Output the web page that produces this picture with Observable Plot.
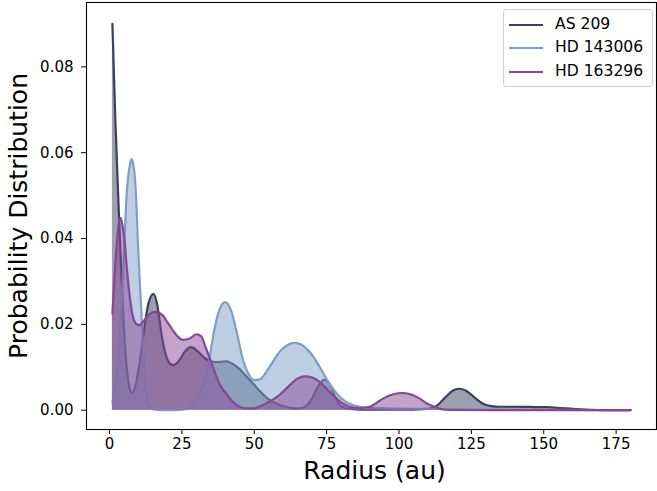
<!DOCTYPE html>
<html><head><meta charset="utf-8">
<script src="https://cdn.jsdelivr.net/npm/d3@7"></script>
<script src="https://cdn.jsdelivr.net/npm/@observablehq/plot@0.6"></script>
<style>
body{margin:0;background:#fff;font-family:"DejaVu Sans",sans-serif;}
#wrap{position:relative;width:657px;height:491px;}
.legend{position:absolute;left:503px;top:9px;width:148px;height:76px;border:1px solid #d0d0d0;border-radius:3px;background:rgba(255,255,255,0.8);font-size:15.6px;color:#000;}
.item{position:absolute;left:0;width:148px;height:20px;}
.swatch{position:absolute;left:5px;top:9px;width:34px;height:2px;}
.lab{position:absolute;left:51px;top:0px;white-space:nowrap;line-height:19px;}
</style></head><body>
<div id="wrap"></div>
<script>
const seriesNames = ["AS 209", "HD 143006", "HD 163296"];
const seriesColors = ["#3b415e", "#7d9fc7", "#874797"];

const r_as209 = [1,2,3,4,5,6,7,7.8,9,10.5,12,13.5,15.2,16.5,18,19.5,21,22.1,24,26,28.2,30.5,33,35,38,40.3,43,45,47,49.5,52,55,58.8,62,65.7,68,70,72,74.3,76.5,78,79.5,83,90,100,110,113,116,119,121,123,126,129,131.4,135,140,145,151,156,160,166,170,180];
const d_as209 = [0.09,0.068,0.05,0.033,0.019,0.0095,0.005,0.004,0.0058,0.0115,0.019,0.025,0.0271,0.0245,0.0175,0.0128,0.0108,0.0105,0.0115,0.0136,0.0147,0.0137,0.0121,0.0114,0.0112,0.0114,0.0106,0.0095,0.0081,0.0063,0.0044,0.0025,0.0012,0.0006,0.0004,0.001,0.0028,0.0055,0.0071,0.0055,0.003,0.0012,0.0003,0.0001,0.0001,0.0003,0.001,0.003,0.0047,0.005,0.0046,0.003,0.0015,0.001,0.0008,0.0008,0.00075,0.0007,0.0005,0.0003,0.0001,0.00003,0];

const r_hd143006 = [1,2,3,4,5,6,7,7.6,8.4,9,10,11,12,13,14,15,20,26,28,30,32,34,36,38,40,42,44,46,48,50,52,55,58.8,61,63.9,66.5,69.1,72.6,75,77.2,80,82,86.4,95,110,120,140,180];
const d_hd143006 = [0.002,0.005,0.012,0.022,0.037,0.051,0.057,0.0585,0.0565,0.052,0.036,0.023,0.009,0.003,0.0008,0.0002,0,0.0002,0.0008,0.0022,0.005,0.01,0.018,0.0235,0.0252,0.0232,0.018,0.012,0.0085,0.007,0.0072,0.0098,0.0136,0.015,0.0157,0.0152,0.0136,0.0101,0.0072,0.005,0.0028,0.0018,0.0008,0.0004,0.0003,0.0002,0.0001,0];

const r_hd163296 = [1,2,3,3.8,4.5,5.2,6,6.9,8,9,10.2,11.5,13.5,15.6,18.4,20,21.9,23.5,25.3,27.7,30,31.7,33,34,35.5,36.9,38.5,40.3,42.5,44.9,47,49.5,52,55.3,58.8,62.2,65,67.4,70,72.6,75,77.2,80,83,86,89.9,92,94.5,98,101.4,104.5,107.2,109.5,111.8,115,120,180];
const d_hd163296 = [0.0225,0.034,0.0425,0.0448,0.043,0.0395,0.033,0.027,0.022,0.0203,0.0198,0.0205,0.0222,0.0229,0.0221,0.0205,0.0186,0.0172,0.0164,0.0167,0.0177,0.0172,0.015,0.0132,0.0105,0.0078,0.0055,0.0039,0.002,0.0008,0.0004,0.0004,0.0009,0.002,0.0036,0.0058,0.0074,0.0079,0.0076,0.0066,0.005,0.0035,0.0018,0.0008,0.0005,0.0008,0.0016,0.0027,0.0037,0.004,0.0036,0.0027,0.0016,0.0009,0.0002,0.00005,0];

const xTicks = [0,25,50,75,100,125,150,175];
const yTicks = [0,0.02,0.04,0.06,0.08];
const xLabel = "Radius (au)";
const yLabel = "Probability Distribution";

const radii = [r_as209, r_hd143006, r_hd163296];
const dens = [d_as209, d_hd143006, d_hd163296];
const rows = seriesNames.map((s, i) => radii[i].map((r, j) => ({series: s, r, d: dens[i][j]})));

const marks = [];
rows.forEach(data => {
  marks.push(Plot.areaY(data, {x: "r", y: "d", fill: "series", fillOpacity: 0.5, curve: "monotone-x"}));
  marks.push(Plot.lineY(data, {x: "r", y: "d", stroke: "series", strokeWidth: 2.2, curve: "monotone-x"}));
});

const chart = Plot.plot({
  width: 657, height: 491,
  marginLeft: 86, marginRight: 1, marginTop: 2, marginBottom: 62,
  style: {fontFamily: "DejaVu Sans", fontSize: "15px", color: "black", background: "white"},
  x: {domain: [-7.95, 188.95]},
  y: {domain: [-0.0045, 0.095]},
  color: {domain: seriesNames, range: seriesColors},
  marks: [
    ...marks,
    Plot.frame({stroke: "black", strokeWidth: 1.1}),
    Plot.axisX({ticks: xTicks, tickSize: 5, tickPadding: 4, fontSize: 15, label: null}),
    Plot.axisY({ticks: yTicks, tickFormat: d3.format(".2f"), tickSize: 5, tickPadding: 8, fontSize: 15, label: null}),
    Plot.text([xLabel], {text: d => d, frameAnchor: "bottom", dy: 41, dx: 3, fontSize: 25, lineAnchor: "middle", textAnchor: "middle"}),
    Plot.text([yLabel], {text: d => d, frameAnchor: "left", dx: -68, rotate: -90, fontSize: 25, lineAnchor: "middle", textAnchor: "middle"})
  ]
});
const wrap = document.getElementById("wrap");
wrap.appendChild(chart);

const leg = document.createElement("div");
leg.className = "legend";
seriesNames.forEach((s, i) => {
  const it = document.createElement("div");
  it.className = "item";
  it.style.top = (5 + i * 23.3) + "px";
  const sw = document.createElement("div");
  sw.className = "swatch";
  sw.style.background = seriesColors[i];
  const lb = document.createElement("div");
  lb.className = "lab";
  lb.textContent = s;
  it.appendChild(sw); it.appendChild(lb);
  leg.appendChild(it);
});
wrap.appendChild(leg);
</script>
</body></html>
